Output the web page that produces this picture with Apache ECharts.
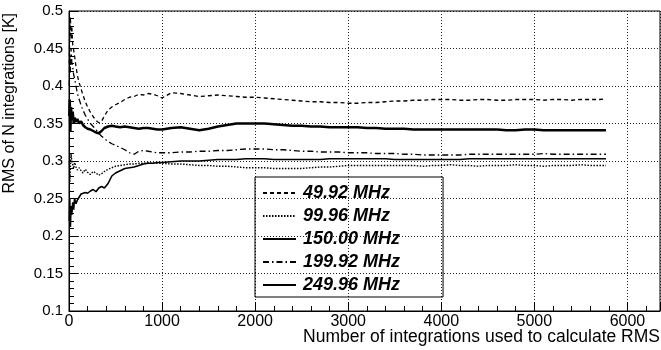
<!DOCTYPE html>
<html lang="en">
<head>
    <meta charset="UTF-8">
    <title>RMS of N integrations</title>
    <script type="text/javascript" src="https://cdn.jsdelivr.net/npm/echarts@6/dist/echarts.min.js"></script>
    <style>
        html, body { margin: 0; padding: 0; background: #fff; }
    </style>
</head>
<body>
<div id="main" style="width:661px;height:350px;"></div>
</body>

<script>
    // number of integrations where each curve was sampled
    const nIntegrations = [
        3, 8, 15, 22, 30, 40, 50, 60, 75, 90,
        110, 130, 150, 175, 200, 230, 260, 290, 320, 350,
        380, 420, 460, 500, 550, 600, 650, 700, 750, 800,
        850, 900, 950, 1000, 1100, 1200, 1300, 1400, 1500, 1600,
        1700, 1800, 1900, 2000, 2100, 2200, 2300, 2400, 2500, 2600,
        2700, 2800, 2900, 3000, 3100, 3200, 3300, 3400, 3500, 3600,
        3700, 3800, 3900, 4000, 4100, 4200, 4300, 4400, 4500, 4600,
        4700, 4800, 4900, 5000, 5100, 5200, 5300, 5400, 5500, 5600,
        5700, 5770
    ];

    const rms4992 = [
        0.430, 0.472, 0.492, 0.462, 0.480, 0.455, 0.448, 0.440, 0.426, 0.414,
        0.404, 0.396, 0.388, 0.379, 0.372, 0.365, 0.359, 0.354, 0.351, 0.353,
        0.360, 0.368, 0.372, 0.375, 0.378, 0.382, 0.385, 0.386, 0.389, 0.388,
        0.390, 0.389, 0.387, 0.384, 0.391, 0.390, 0.388, 0.386, 0.387, 0.388,
        0.387, 0.386, 0.385, 0.385, 0.384, 0.383, 0.382, 0.381, 0.380, 0.379,
        0.379, 0.378, 0.378, 0.377, 0.377, 0.378, 0.378, 0.379, 0.380, 0.380,
        0.381, 0.381, 0.382, 0.382, 0.382, 0.381, 0.381, 0.382, 0.382, 0.381,
        0.381, 0.382, 0.382, 0.382, 0.381, 0.382, 0.382, 0.381, 0.382, 0.382,
        0.382, 0.383
    ];
    const rms9996 = [
        0.300, 0.272, 0.292, 0.310, 0.300, 0.295, 0.290, 0.298, 0.292, 0.288,
        0.291, 0.287, 0.284, 0.289, 0.285, 0.282, 0.286, 0.284, 0.281, 0.283,
        0.286, 0.289, 0.291, 0.293, 0.294, 0.295, 0.296, 0.296, 0.297, 0.297,
        0.298, 0.297, 0.297, 0.297, 0.296, 0.296, 0.295, 0.294, 0.294, 0.293,
        0.293, 0.292, 0.291, 0.291, 0.291, 0.290, 0.290, 0.290, 0.290, 0.291,
        0.292, 0.292, 0.293, 0.294, 0.294, 0.294, 0.294, 0.294, 0.294, 0.294,
        0.294, 0.293, 0.294, 0.294, 0.295, 0.294, 0.294, 0.293, 0.294, 0.294,
        0.294, 0.295, 0.294, 0.294, 0.293, 0.294, 0.294, 0.294, 0.295, 0.294,
        0.294, 0.294
    ];
    const rms15000 = [
        0.360, 0.382, 0.340, 0.372, 0.355, 0.366, 0.350, 0.358, 0.352, 0.356,
        0.350, 0.353, 0.348, 0.345, 0.343, 0.342, 0.340, 0.338, 0.337, 0.340,
        0.344, 0.346, 0.347, 0.346, 0.345, 0.346, 0.345, 0.344, 0.343, 0.344,
        0.344, 0.343, 0.342, 0.342, 0.344, 0.345, 0.343, 0.341, 0.343, 0.346,
        0.348, 0.350, 0.350, 0.350, 0.350, 0.349, 0.348, 0.347, 0.347, 0.346,
        0.346, 0.345, 0.345, 0.345, 0.345, 0.344, 0.344, 0.343, 0.343, 0.343,
        0.342, 0.342, 0.342, 0.342, 0.342, 0.342, 0.342, 0.342, 0.342, 0.342,
        0.341, 0.341, 0.342, 0.342, 0.341, 0.341, 0.341, 0.341, 0.341, 0.341,
        0.341, 0.341
    ];
    const rms19992 = [
        0.400, 0.440, 0.418, 0.450, 0.432, 0.425, 0.415, 0.410, 0.400, 0.390,
        0.382, 0.374, 0.368, 0.361, 0.356, 0.350, 0.346, 0.342, 0.337, 0.333,
        0.330, 0.326, 0.323, 0.321, 0.318, 0.315, 0.311, 0.309, 0.313, 0.314,
        0.313, 0.312, 0.311, 0.311, 0.311, 0.312, 0.312, 0.313, 0.313, 0.314,
        0.314, 0.315, 0.316, 0.316, 0.316, 0.315, 0.315, 0.314, 0.313, 0.313,
        0.312, 0.312, 0.312, 0.311, 0.311, 0.311, 0.310, 0.310, 0.310, 0.309,
        0.309, 0.308, 0.308, 0.308, 0.308, 0.308, 0.309, 0.309, 0.309, 0.309,
        0.309, 0.309, 0.309, 0.309, 0.310, 0.309, 0.309, 0.309, 0.309, 0.309,
        0.309, 0.309
    ];
    const rms24996 = [
        0.220, 0.250, 0.212, 0.240, 0.228, 0.245, 0.235, 0.250, 0.243, 0.248,
        0.252, 0.256, 0.255, 0.258, 0.257, 0.260, 0.262, 0.259, 0.264, 0.266,
        0.264, 0.270, 0.280, 0.284, 0.287, 0.290, 0.291, 0.292, 0.294, 0.296,
        0.297, 0.297, 0.298, 0.298, 0.299, 0.300, 0.300, 0.300, 0.301, 0.302,
        0.302, 0.302, 0.303, 0.303, 0.303, 0.302, 0.302, 0.302, 0.302, 0.302,
        0.302, 0.303, 0.303, 0.303, 0.303, 0.303, 0.303, 0.303, 0.302, 0.302,
        0.302, 0.302, 0.302, 0.302, 0.302, 0.302, 0.303, 0.303, 0.303, 0.303,
        0.303, 0.303, 0.303, 0.303, 0.303, 0.303, 0.303, 0.303, 0.303, 0.303,
        0.303, 0.303
    ];

    const seriesNames = ['49.92 MHz', '99.96 MHz', '150.00 MHz', '199.92 MHz', '249.96 MHz'];
    const seriesValues = [rms4992, rms9996, rms15000, rms19992, rms24996];
    const lineTypes = [[4, 3], [1.5, 1.5], 'solid', [6, 3, 1.5, 3], 'solid'];
    const lineWidths = [1.3, 1.4, 2.5, 1.3, 1.6];

    const font = 'Liberation Sans, Arial, Helvetica, sans-serif';

    let myChart = echarts.init(document.getElementById('main'));

    let series = [];
    seriesNames.forEach(function (name, k) {
        series.push({
            name: name,
            type: 'line',
            symbol: 'none',
            silent: true,
            data: nIntegrations.map((n, i) => [n, seriesValues[k][i]]),
            lineStyle: {
                color: '#000',
                width: lineWidths[k],
                type: lineTypes[k]
            },
            itemStyle: { color: '#000' }
        });
    });

    let option = {
        animation: false,
        backgroundColor: '#fff',
        // x axis title, right aligned under the tick labels like ROOT does
        title: {
            text: 'Number of integrations used to calculate RMS',
            right: 1,
            top: 328,
            padding: 0,
            textStyle: {
                fontFamily: font,
                fontSize: 17.5,
                fontWeight: 'normal',
                color: '#000'
            }
        },
        grid: {
            left: 69, right: 1, top: 11, bottom: 39,
            outerBoundsMode: 'none',
            containLabel: false,
            show: true,
            borderColor: '#000',
            borderWidth: 1
        },
        legend: {
            data: seriesNames,
            orient: 'vertical',
            left: 255,
            top: 177,
            itemWidth: 33,
            itemHeight: 14,
            itemGap: 5,
            padding: [7, 43, 3, 7],
            borderColor: '#000',
            borderWidth: 1,
            selectedMode: false,
            itemStyle: { opacity: 0, borderWidth: 0 },
            textStyle: {
                fontFamily: font,
                fontSize: 18,
                fontStyle: 'italic',
                fontWeight: 'bold',
                color: '#000',
                padding: [0, 0, 0, 2]
            }
        },
        xAxis: {
            type: 'value',
            min: 0,
            max: 6350,
            interval: 1000,
            axisLine: { show: true, lineStyle: { color: '#000', width: 1 } },
            axisTick: { show: true, inside: true, length: 9, lineStyle: { color: '#000' } },
            minorTick: { show: true, splitNumber: 5, length: 5, lineStyle: { color: '#000' } },
            axisLabel: {
                showMaxLabel: false,
                margin: 3,
                fontFamily: font,
                fontSize: 16,
                color: '#000',
                formatter: value => String(value)
            },
            splitLine: { show: true, lineStyle: { color: '#222', type: [1, 2], width: 1 } }
        },
        yAxis: {
            type: 'value',
            min: 0.1,
            max: 0.5,
            interval: 0.05,
            name: 'RMS of N integrations [K]',
            nameLocation: 'end',
            nameRotate: 90,
            nameGap: -2,
            nameTextStyle: {
                fontFamily: font,
                fontSize: 16,
                color: '#000',
                align: 'right',
                verticalAlign: 'bottom',
                padding: [0, 0, 51, 0]
            },
            axisLine: { show: true, lineStyle: { color: '#000', width: 1 } },
            axisTick: { show: true, inside: true, length: 9, lineStyle: { color: '#000' } },
            minorTick: { show: true, splitNumber: 5, length: 5, lineStyle: { color: '#000' } },
            axisLabel: {
                margin: 6,
                fontFamily: font,
                fontSize: 15,
                color: '#000'
            },
            splitLine: { show: true, lineStyle: { color: '#222', type: [1, 2], width: 1 } }
        },
        series: series
    };

    myChart.setOption(option);
</script>
</html>
